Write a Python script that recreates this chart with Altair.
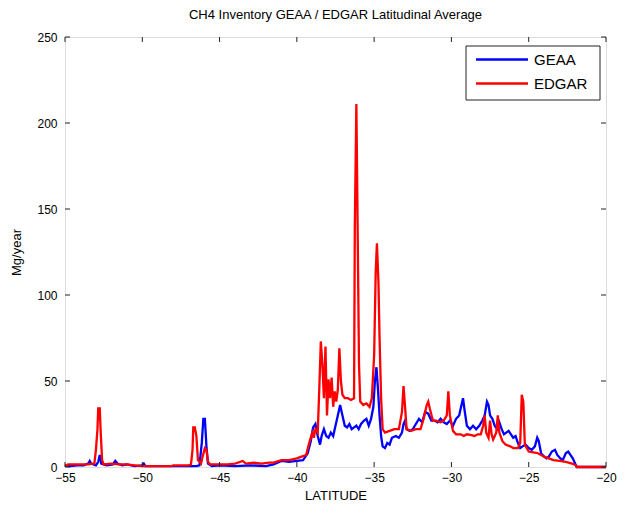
import altair as alt
import pandas as pd

# ---- data ----
geaa_lat = [-55.0, -54.7, -54.2, -53.8, -53.5, -53.4, -53.3, -53.0, -52.85, -52.75, -52.65, -52.3,
            -51.9, -51.75, -51.6, -51.3, -51.0, -50.5, -50.0, -49.9, -49.8, -47.0, -46.5, -46.3,
            -46.15, -46.05, -45.95, -45.85, -45.75, -45.5, -45.0, -44.0, -43.0, -42.0, -41.5, -41.0,
            -40.5, -40.0, -39.6, -39.3, -39.1, -38.95, -38.8, -38.65, -38.5, -38.4, -38.25, -38.1,
            -37.95, -37.8, -37.65, -37.5, -37.35, -37.2, -37.05, -36.9, -36.75, -36.6, -36.45, -36.3,
            -36.15, -36.0, -35.85, -35.65, -35.5, -35.35, -35.2, -35.05, -34.95, -34.85, -34.75, -34.65,
            -34.55, -34.45, -34.3, -34.15, -34.0, -33.85, -33.6, -33.4, -33.2, -33.1, -33.0, -32.9,
            -32.7, -32.5, -32.3, -32.1, -31.9, -31.7, -31.5, -31.3, -31.1, -30.9, -30.7, -30.5,
            -30.3, -30.1, -29.9, -29.7, -29.5, -29.35, -29.25, -29.15, -29.0, -28.8, -28.6, -28.4,
            -28.2, -28.0, -27.85, -27.7, -27.6, -27.5, -27.35, -27.2, -27.05, -26.9, -26.75, -26.6,
            -26.45, -26.3, -26.15, -26.0, -25.85, -25.7, -25.55, -25.4, -25.2, -25.0, -24.8, -24.6,
            -24.45, -24.35, -24.2, -24.0, -23.85, -23.7, -23.5, -23.3, -23.15, -22.95, -22.8, -22.6,
            -22.45, -22.3, -22.15, -22.0, -21.9, -21.0, -20.0]
geaa_val = [1, 0.5, 1, 1, 2, 3.5, 2, 1, 3, 7, 2, 1,
            1.5, 3.5, 2, 1, 1.5, 0.5, 1, 2, 0.5, 0.5, 0.5, 1,
            14, 28, 28, 12, 2, 0.5, 1, 0.5, 1, 0.5, 1.5, 3.5,
            3, 3.5, 4, 8, 15, 23, 25, 18, 13, 18, 22, 18,
            17, 20, 18, 24, 30, 36, 30, 24, 23, 25, 22, 23,
            24, 22, 25, 27, 28, 24, 28, 35, 50, 58, 45, 30,
            18, 12, 11, 14, 13, 17, 18, 17, 20, 25, 27, 22,
            21, 22, 25, 28, 26, 32, 31, 27, 27, 26, 28, 26,
            25, 27, 24, 28, 30, 36, 40, 33, 24, 22, 24, 22,
            24, 27, 30, 38, 36, 30, 28, 24, 22, 26, 22, 19,
            20, 21, 19, 17, 18, 14, 11, 12, 13, 11, 10, 12,
            17, 15, 8, 6, 5, 6, 9, 10, 7, 5, 4, 8,
            9, 7, 5, 2, 0, 0, 0]

edgar_lat = [-55.0, -54.8, -54.0, -53.5, -53.1, -53.0, -52.9, -52.85, -52.75, -52.7, -52.6, -52.5,
             -52.0, -51.5, -51.0, -50.5, -50.0, -49.0, -48.1, -48.0, -47.0, -46.85, -46.75, -46.7,
             -46.6, -46.5, -46.4, -46.2, -46.1, -45.95, -45.85, -45.75, -45.6, -45.0, -44.5, -44.0,
             -43.5, -43.3, -42.8, -42.3, -41.8, -41.5, -41.0, -40.5, -40.0, -39.7, -39.4, -39.2,
             -39.0, -38.9, -38.8, -38.65, -38.55, -38.45, -38.35, -38.25, -38.15, -38.05, -37.95, -37.85,
             -37.75, -37.65, -37.55, -37.45, -37.35, -37.25, -37.15, -37.05, -36.9, -36.7, -36.5, -36.3,
             -36.25, -36.15, -36.05, -35.98, -35.9, -35.7, -35.5, -35.3, -35.15, -35.0, -34.9, -34.82,
             -34.72, -34.65, -34.55, -34.45, -34.3, -34.0, -33.7, -33.4, -33.2, -33.1, -33.0, -32.9,
             -32.6, -32.3, -32.0, -31.8, -31.6, -31.5, -31.4, -31.2, -31.0, -30.7, -30.5, -30.3,
             -30.2, -30.1, -29.9, -29.7, -29.4, -29.2, -29.0, -28.7, -28.5, -28.3, -28.1, -27.95,
             -27.85, -27.75, -27.6, -27.5, -27.4, -27.3, -27.1, -27.0, -26.9, -26.7, -26.5, -26.2,
             -26.0, -25.7, -25.55, -25.45, -25.35, -25.25, -25.0, -24.7, -24.4, -24.0, -23.7, -23.4,
             -23.0, -22.6, -22.2, -21.95, -21.85, -21.0, -20.0]
edgar_val = [0.5, 1.5, 1.5, 1.5, 2, 10, 22, 34, 34, 22, 4, 1.5,
             2, 1.5, 1.5, 1, 0.5, 0.5, 0.5, 1, 1, 1.5, 10, 23,
             23, 18, 4, 2, 6, 11, 10, 3, 1.5, 1.5, 1.5, 2,
             3.5, 2, 2.5, 2, 2.5, 2.5, 4, 4, 5, 6, 7, 14,
             20, 17, 22, 20, 45, 73, 60, 40, 70, 30, 51, 40,
             52, 35, 44, 38, 45, 69, 50, 42, 40, 40, 39, 40,
             140, 211, 123, 60, 38, 36, 37, 35, 40, 65, 113, 130,
             107, 75, 40, 22, 20, 21, 22, 22, 32, 47, 35, 22,
             21, 22, 22, 28, 36, 38, 34, 27, 27, 26, 27, 30,
             44, 30, 21, 19, 19, 18, 19, 18.5, 18, 19, 19, 24,
             30, 20, 17, 27, 19, 16, 20, 30, 20, 15, 13, 12,
             11, 11, 14, 42, 38, 13, 9, 8.5, 8, 6, 5, 4,
             3.5, 3, 2, 1, 0, 0, 0]

series_names = ["GEAA", "EDGAR"]
series_colors = ["#0000FF", "#FF0000"]
x_ticks = [-55, -50, -45, -40, -35, -30, -25, -20]
y_ticks = [0, 50, 100, 150, 200, 250]

geaa_df = pd.DataFrame({"lat": geaa_lat, "val": geaa_val, "series": "GEAA"})
edgar_df = pd.DataFrame({"lat": edgar_lat, "val": edgar_val, "series": "EDGAR"})
xt_df = pd.DataFrame({"lat": x_ticks})
yt_df = pd.DataFrame({"val": y_ticks})

PAD_L, PAD_T, PAD_R, PAD_B = 57, 29, 13, 38
W, H = 541, 430
FONT = "Liberation Sans"
TC = "#222222"

xscale = alt.Scale(domain=[-55, -20], nice=False, zero=False)
yscale = alt.Scale(domain=[0, 250], nice=False)
cscale = alt.Scale(domain=series_names, range=series_colors)

xaxis = alt.Axis(values=x_ticks, title="LATITUDE", grid=False, ticks=False, domain=False,
                 labelFontSize=12, labelFont=FONT, labelColor="black", labelPadding=5,
                 labelFlush=False, labelOverlap=False,
                 titleFontSize=13, titleFont=FONT, titleFontWeight="normal", titleColor="black",
                 titlePadding=6, format="d")
yaxis = alt.Axis(values=y_ticks, title="Mg/year", grid=False, ticks=False, domain=False,
                 labelFontSize=12, labelFont=FONT, labelColor="black", labelPadding=8,
                 labelFlush=False, labelOverlap=False,
                 titleFontSize=13, titleFont=FONT, titleFontWeight="normal", titleColor="black",
                 titlePadding=13)

def line_layer(df):
    return alt.Chart(df).mark_line(strokeWidth=2.3, interpolate="linear").encode(
        x=alt.X("lat:Q", scale=xscale, axis=xaxis),
        y=alt.Y("val:Q", scale=yscale, axis=yaxis),
        color=alt.Color("series:N", scale=cscale, legend=None),
    )

tick_len = 5
bottom_ticks = alt.Chart(xt_df).mark_rule(color=TC).encode(
    x=alt.X("lat:Q", scale=xscale, axis=xaxis), y=alt.value(H), y2=alt.value(H - tick_len))
top_ticks = alt.Chart(xt_df).mark_rule(color=TC).encode(
    x=alt.X("lat:Q", scale=xscale, axis=xaxis), y=alt.value(0), y2=alt.value(tick_len))
left_ticks = alt.Chart(yt_df).mark_rule(color=TC).encode(
    y=alt.Y("val:Q", scale=yscale, axis=yaxis), x=alt.value(0), x2=alt.value(tick_len))
right_ticks = alt.Chart(yt_df).mark_rule(color=TC).encode(
    y=alt.Y("val:Q", scale=yscale, axis=yaxis), x=alt.value(W), x2=alt.value(W - tick_len))

# ---- legend box (drawn manually, MATLAB style), anchored to the top-right corner ----
LX1 = W - 6
LX0 = LX1 - 134
LY0, LY1 = 9, 63
ROW_Y = [22.5, 46.5]
legend_box = alt.Chart(pd.DataFrame({"series": ["box"]})).mark_rect(
    fill="white", stroke=TC, strokeWidth=1).encode(
    x=alt.value(LX0), x2=alt.value(LX1), y=alt.value(LY0), y2=alt.value(LY1))
legend_layers = [legend_box]
for name, ry in zip(series_names, ROW_Y):
    row_df = pd.DataFrame({"series": [name]})
    legend_layers.append(alt.Chart(row_df).mark_rule(strokeWidth=2.3).encode(
        x=alt.value(LX0 + 10), x2=alt.value(LX0 + 62), y=alt.value(ry),
        color=alt.Color("series:N", scale=cscale, legend=None)))
    legend_layers.append(alt.Chart(row_df).mark_text(
        align="left", baseline="middle", fontSize=15, font=FONT, color="black").encode(
        x=alt.value(LX0 + 68), y=alt.value(ry + 0.5), text="series:N"))

chart = alt.layer(
    line_layer(geaa_df), line_layer(edgar_df),
    bottom_ticks, top_ticks, left_ticks, right_ticks,
    *legend_layers,
).properties(
    width=W, height=H,
    title=alt.TitleParams("CH4 Inventory GEAA / EDGAR Latitudinal Average", fontSize=13,
                          fontWeight="normal", font=FONT, color="black", offset=9, anchor="middle"),
    autosize=alt.AutoSizeParams(type="none"),
    padding={"left": PAD_L, "top": PAD_T, "right": PAD_R, "bottom": PAD_B},
).configure_view(stroke=TC, strokeWidth=1).configure(background="white")

chart.save("out.html", embed_options={"renderer": "svg", "actions": False})
